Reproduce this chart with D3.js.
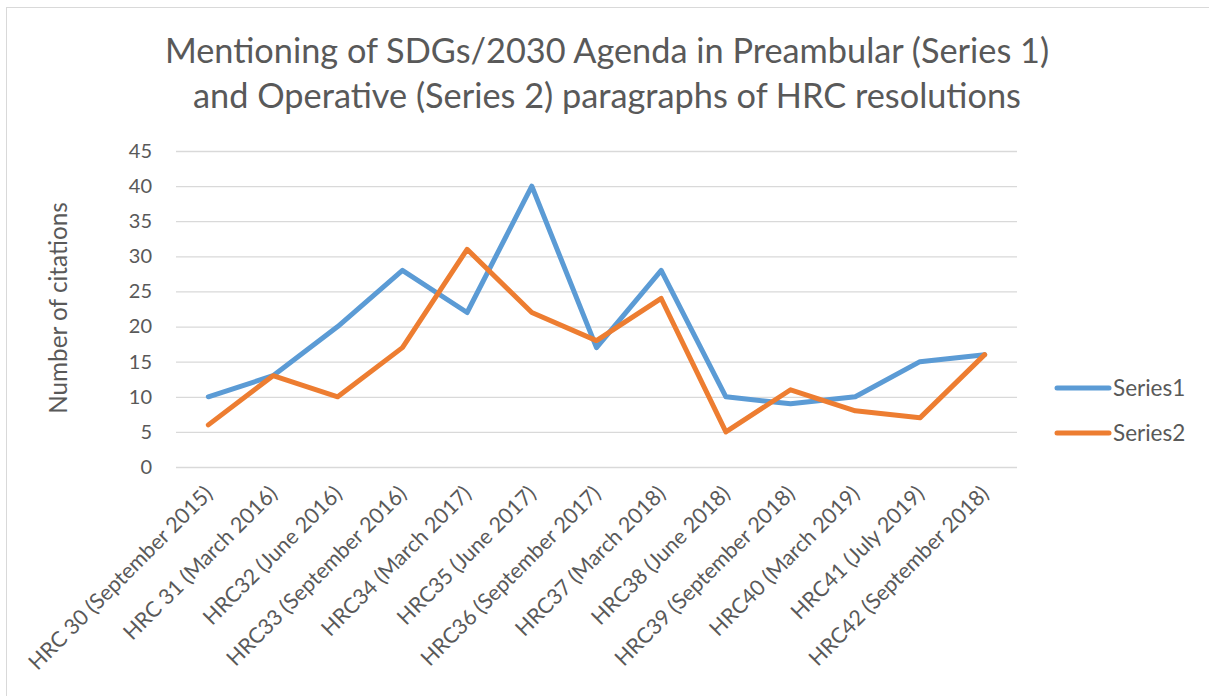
<!DOCTYPE html>
<html><head><meta charset="utf-8">
<script src="https://cdn.jsdelivr.net/npm/d3@7/dist/d3.min.js"></script>
<style>body{margin:0;background:#fff}svg{display:block}</style>
</head><body><svg id="c" width="1209" height="696"></svg>
<script>
const categories = ["HRC 30 (September 2015)","HRC 31 (March 2016)","HRC32 (June 2016)","HRC33 (September 2016)","HRC34 (March 2017)","HRC35 (June 2017)","HRC36 (September 2017)","HRC37 (March 2018)","HRC38 (June 2018)","HRC39 (September 2018)","HRC40 (March 2019)","HRC41 (July 2019)","HRC42 (September 2018)"];
const series1 = [10,13,20,28,22,40,17,28,10,9,10,15,16];
const series2 = [6,13,10,17,31,22,18,24,5,11,8,7,16];
const seriesNames = ["Series1","Series2"];
const yTicks = [0,5,10,15,20,25,30,35,40,45];
const titleLines = ["Mentioning of SDGs/2030 Agenda in Preambular (Series 1)","and Operative (Series 2) paragraphs of HRC resolutions"];
const yLabel = "Number of citations";

const font = "Lato, 'Open Sans', sans-serif";
const textCol = "#595959";
const colors = ["#5b9bd5","#ed7d31"];
const svg = d3.select("#c");

svg.append("rect").attr("x",6.5).attr("y",7.5).attr("width",1300).attr("height",800)
  .attr("fill","#fff").attr("stroke","#d9d9d9").attr("stroke-width",1);

const pLeft=176, pRight=1017, pTop=151, pBottom=467;
const x = d3.scalePoint().domain(categories).range([pLeft,pRight]).padding(0.5);
const y = d3.scaleLinear().domain([0,45]).range([pBottom,pTop]);

// title
svg.append("g").selectAll("text").data(titleLines).join("text")
  .attr("x",607).attr("y",(d,i)=>63+i*45).attr("text-anchor","middle")
  .attr("font-family",font).attr("font-size",34.3).attr("fill",textCol).text(d=>d);

// gridlines
svg.append("g").selectAll("line").data(yTicks).join("line")
  .attr("x1",pLeft).attr("x2",pRight).attr("y1",d=>y(d)+0.5).attr("y2",d=>y(d)+0.5)
  .attr("stroke","#d9d9d9").attr("stroke-width",1.3);

// y axis
const ya = svg.append("g").attr("transform",`translate(${pLeft},0)`)
  .call(d3.axisLeft(y).tickValues(yTicks).tickSize(0).tickPadding(24));
ya.select(".domain").remove();
ya.selectAll("text").attr("font-family",font).attr("font-size",20).attr("fill",textCol);

// x axis labels
const xa = svg.append("g").attr("transform",`translate(0,${pBottom})`)
  .call(d3.axisBottom(x).tickSize(0));
xa.select(".domain").remove();
xa.selectAll("text").attr("font-family",font).attr("font-size",21.5).attr("fill",textCol)
  .attr("text-anchor","end").attr("dy",null).attr("y",0)
  .attr("transform","translate(5,28) rotate(-45)");

// y label
svg.append("text").attr("transform","translate(67,308) rotate(-90)").attr("text-anchor","middle")
  .attr("font-family",font).attr("font-size",24.3).attr("fill",textCol).text(yLabel);

// lines
const line = d3.line().x((d,i)=>x(categories[i])).y(d=>y(d));
[series1,series2].forEach((s,k)=>{
  svg.append("path").datum(s).attr("d",line).attr("fill","none")
    .attr("stroke",colors[k]).attr("stroke-width",5).attr("stroke-linejoin","round").attr("stroke-linecap","round");
});

// legend
const lg = svg.append("g").selectAll("g").data(seriesNames).join("g")
  .attr("transform",(d,i)=>`translate(1057,${388+i*45})`);
lg.append("line").attr("x1",0).attr("x2",52).attr("stroke",(d,i)=>colors[i]).attr("stroke-width",5).attr("stroke-linecap","round");
lg.append("text").attr("x",56).attr("y",8).attr("font-family",font).attr("font-size",22.5).attr("fill",textCol).text(d=>d);
</script></body></html>
